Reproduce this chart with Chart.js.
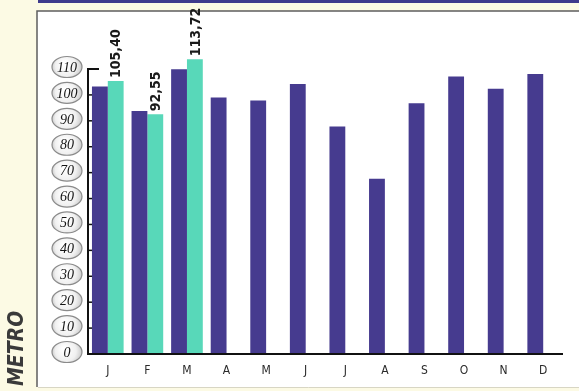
<!DOCTYPE html>
<html>
<head>
<meta charset="utf-8">
<script src="https://cdn.jsdelivr.net/npm/chart.js@4/dist/chart.umd.min.js"></script>
<style>
  html, body { margin: 0; padding: 0; background: #fcfae4; }
  #c { display: block; }
</style>
</head>
<body>
<canvas id="c" width="579" height="391"></canvas>
<script>
const months = ['J','F','M','A','M','J','J','A','S','O','N','D'];
const seriesPrev = [103.2, 93.8, 109.9, 99.0, 97.8, 104.2, 87.8, 67.6, 96.8, 107.1, 102.4, 108.1];
const seriesCurr = [105.40, 92.55, 113.72, null, null, null, null, null, null, null, null, null];
const yTickValues = [0, 10, 20, 30, 40, 50, 60, 70, 80, 90, 100, 110];
const sideTitle = 'METRO';

const COL_DARK = '#463b8f';
const COL_TEAL = '#58d8b9';

const decor = {
  id: 'decor',
  beforeDraw(chart) {
    const ctx = chart.ctx;
    ctx.save();
    ctx.fillStyle = '#fcfae4';
    ctx.fillRect(0, 0, chart.width, chart.height);
    ctx.fillStyle = '#3e3a8c';
    ctx.fillRect(38, 0, chart.width - 38, 3);
    ctx.fillStyle = '#ffffff';
    ctx.fillRect(37, 11, chart.width - 37, 376);
    ctx.strokeStyle = '#5e5e5e';
    ctx.lineWidth = 1.5;
    ctx.beginPath();
    ctx.moveTo(37, 387); ctx.lineTo(37, 11); ctx.lineTo(chart.width, 11);
    ctx.stroke();
    ctx.strokeStyle = '#d8d6c4';
    ctx.lineWidth = 1;
    ctx.beginPath();
    ctx.moveTo(38, 387.5); ctx.lineTo(chart.width, 387.5);
    ctx.stroke();

    // side title
    ctx.save();
    ctx.translate(23, 386);
    ctx.rotate(-Math.PI / 2);
    ctx.fillStyle = '#3a3a3a';
    ctx.font = 'italic bold 21px "Liberation Sans Narrow", "DejaVu Sans Condensed", sans-serif';
    ctx.textAlign = 'left';
    ctx.textBaseline = 'alphabetic';
    ctx.fillText(sideTitle, 0, 0);
    ctx.restore();

    // oval tick labels
    const ys = chart.scales.y;
    ys.ticks.forEach((t, i) => {
      const py = ys.getPixelForTick(i) - 2;
      const cx = 67;
      const g = ctx.createRadialGradient(cx - 3, py - 3, 2, cx, py, 16);
      g.addColorStop(0, '#ffffff');
      g.addColorStop(0.6, '#f0f0f0');
      g.addColorStop(1, '#c2c2c2');
      ctx.fillStyle = g;
      ctx.beginPath();
      ctx.ellipse(cx, py, 15, 10.5, 0, 0, Math.PI * 2);
      ctx.fill();
      ctx.strokeStyle = '#8a8a8a';
      ctx.lineWidth = 1.2;
      ctx.stroke();
      ctx.fillStyle = '#151515';
      ctx.font = 'italic 14px "Liberation Serif", "DejaVu Serif", serif';
      ctx.textAlign = 'center';
      ctx.textBaseline = 'middle';
      ctx.fillText(String(t.value), cx, py + 1);
    });
    ctx.restore();
  },
  afterDatasetsDraw(chart) {
    const ctx = chart.ctx;
    const ys = chart.scales.y;
    const x0 = chart.chartArea.left;
    const yZero = ys.getPixelForValue(0);
    const yTop = ys.getPixelForValue(110);
    ctx.save();
    ctx.strokeStyle = '#111111';
    ctx.lineWidth = 2;
    ctx.beginPath();
    ctx.moveTo(x0 + 11, yTop);
    ctx.lineTo(x0, yTop);
    ctx.lineTo(x0, yZero);
    ctx.lineTo(chart.chartArea.right, yZero);
    ctx.stroke();
    ctx.lineWidth = 1.5;
    ys.ticks.forEach((t, i) => {
      const py = ys.getPixelForTick(i);
      ctx.beginPath();
      ctx.moveTo(x0, py);
      ctx.lineTo(x0 + 4, py);
      ctx.stroke();
    });
    // value labels on current-year bars
    const meta = chart.getDatasetMeta(1);
    ctx.fillStyle = '#1a1a1a';
    ctx.font = 'bold 14px "Liberation Sans Narrow", "DejaVu Sans Condensed", sans-serif';
    ctx.textAlign = 'left';
    ctx.textBaseline = 'middle';
    meta.data.forEach((bar, i) => {
      const v = seriesCurr[i];
      if (v === null || v === undefined) return;
      const txt = v.toFixed(2).replace('.', ',');
      ctx.save();
      ctx.translate(bar.x + 1, bar.y - 3);
      ctx.rotate(-Math.PI / 2);
      ctx.fillText(txt, 0, 0);
      ctx.restore();
    });
    ctx.restore();
  }
};

new Chart(document.getElementById('c'), {
  type: 'bar',
  data: {
    labels: months,
    datasets: [
      { data: seriesPrev, backgroundColor: COL_DARK, clip: false },
      { data: seriesCurr, backgroundColor: COL_TEAL, clip: false }
    ]
  },
  options: {
    responsive: false,
    devicePixelRatio: 1,
    animation: false,
    layout: { padding: { top: 69, right: 16, left: 0, bottom: 0 } },
    datasets: { bar: { categoryPercentage: 0.8, barPercentage: 1.0 } },
    plugins: { legend: { display: false }, tooltip: { enabled: false } },
    scales: {
      x: {
        grid: { display: false, drawTicks: false },
        border: { display: false },
        ticks: {
          padding: 10,
          color: '#2a2a2a',
          font: { family: '"Liberation Sans Narrow", "DejaVu Sans Condensed", sans-serif', size: 12 }
        },
        afterFit(scale) { scale.height = 37; }
      },
      y: {
        min: 0, max: 110,
        grid: { display: false, drawTicks: false },
        border: { display: false },
        ticks: { display: false, stepSize: 10 },
        afterBuildTicks(scale) { scale.ticks = yTickValues.map(v => ({ value: v })); },
        afterFit(scale) { scale.width = 88; }
      }
    }
  },
  plugins: [decor]
});
</script>
</body>
</html>
